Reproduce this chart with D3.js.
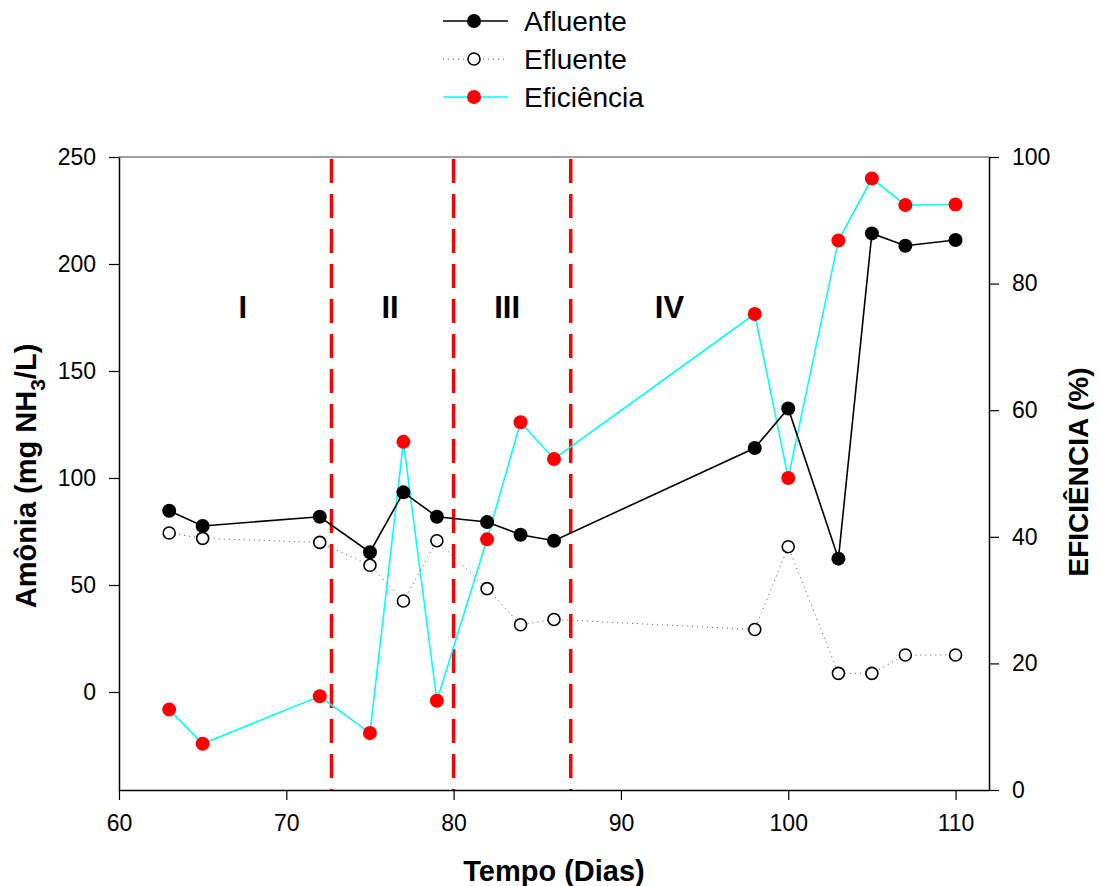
<!DOCTYPE html>
<html lang="pt">
<head>
<meta charset="UTF-8" />
<title>Amônia - Afluente / Efluente / Eficiência</title>
<script src="https://cdn.jsdelivr.net/npm/d3@7"></script>
<style>
  body { margin: 0; background: #fff; }
  svg text { font-family: "Liberation Sans", Arial, sans-serif; }
</style>
</head>
<body>
<div id="chart"></div>
<script>
// data
var dias = [63, 65, 72, 75, 77, 79, 82, 84, 86, 98, 100, 103, 105, 107, 110];
var afluente = [84.7, 77.6, 81.9, 65.3, 93.3, 81.9, 79.4, 73.5, 70.7, 114, 132.5, 62.3, 214.3, 208.5, 211.2];
var efluente = [74.3, 71.8, 69.9, 59.2, 42.5, 70.7, 48.3, 31.4, 33.9, 29.2, 67.9, 8.7, 8.7, 17.3, 17.3];
var eficiencia = [12.7, 7.3, 14.8, 9.0, 55.0, 14.1, 39.6, 58.1, 52.3, 75.2, 49.3, 86.8, 96.6, 92.4, 92.5];
var fases = [72.7, 80, 87];
var faseLabels = ["I", "II", "III", "IV"];
var faseLabelX = [67.4, 76.2, 83.2, 92.9];
var xTicks = [60, 70, 80, 90, 100, 110];
var yTicks = [0, 50, 100, 150, 200, 250];
var y2Ticks = [0, 20, 40, 60, 80, 100];

var W = 1100, H = 886;
// plot box (named pl* so they don't clash with window.top etc.)
var plLeft = 119, plRight = 989, plTop = 157, plBottom = 790;

var svg = d3.select("#chart").append("svg")
  .attr("width", W).attr("height", H);

var x = d3.scaleLinear().domain([60, 112]).range([plLeft, plRight]);
var y = d3.scaleLinear().domain([-45.8, 250]).range([plBottom, plTop]);
var y2 = d3.scaleLinear().domain([0, 100]).range([plBottom, plTop]);

// phase dividers
svg.selectAll("line.fase").data(fases).enter().append("line")
  .attr("class", "fase")
  .attr("x1", function(d) { return x(d); }).attr("x2", function(d) { return x(d); })
  .attr("y1", 159).attr("y2", plBottom)
  .attr("stroke", "#ff0000").attr("stroke-width", 3.5)
  .attr("stroke-dasharray", "24,11");

svg.selectAll("text.fase").data(faseLabels).enter().append("text")
  .attr("class", "fase")
  .attr("x", function(d, i) { return x(faseLabelX[i]); })
  .attr("y", 318)
  .attr("text-anchor", "middle")
  .style("font-size", "31px").style("font-weight", "bold")
  .text(function(d) { return d; });

var pts = dias.map(function(d, i) {
  return { d: d, af: afluente[i], ef: efluente[i], eff: eficiencia[i] };
});

// lines
svg.append("path").datum(pts)
  .attr("fill", "none").attr("stroke", "#00ffff").attr("stroke-width", 1.6)
  .attr("d", d3.line().x(function(p) { return x(p.d); }).y(function(p) { return y2(p.eff); }));

svg.append("path").datum(pts)
  .attr("fill", "none").attr("stroke", "#555").attr("stroke-width", 1)
  .attr("stroke-dasharray", "1,4")
  .attr("d", d3.line().x(function(p) { return x(p.d); }).y(function(p) { return y(p.ef); }));

svg.append("path").datum(pts)
  .attr("fill", "none").attr("stroke", "#000").attr("stroke-width", 1.6)
  .attr("d", d3.line().x(function(p) { return x(p.d); }).y(function(p) { return y(p.af); }));

// markers
svg.selectAll("circle.ef").data(pts).enter().append("circle")
  .attr("class", "ef")
  .attr("cx", function(p) { return x(p.d); }).attr("cy", function(p) { return y(p.ef); })
  .attr("r", 6).attr("fill", "#fff").attr("stroke", "#000").attr("stroke-width", 1.6);

svg.selectAll("circle.af").data(pts).enter().append("circle")
  .attr("class", "af")
  .attr("cx", function(p) { return x(p.d); }).attr("cy", function(p) { return y(p.af); })
  .attr("r", 7).attr("fill", "#000");

svg.selectAll("circle.eff").data(pts).enter().append("circle")
  .attr("class", "eff")
  .attr("cx", function(p) { return x(p.d); }).attr("cy", function(p) { return y2(p.eff); })
  .attr("r", 7).attr("fill", "#ff0000");

// frame top
svg.append("line")
  .attr("x1", plLeft).attr("x2", plRight).attr("y1", plTop).attr("y2", plTop)
  .attr("stroke", "#444").attr("stroke-width", 1.2);

// axes
function styleAxis(g) {
  g.select(".domain").attr("stroke", "#000").attr("stroke-width", 1.5);
  g.selectAll(".tick line").attr("stroke", "#000").attr("stroke-width", 1.2);
  g.selectAll(".tick text").style("font-size", "23px").attr("fill", "#000")
    .style("font-family", "'Liberation Sans', Arial, sans-serif");
}

svg.append("g")
  .attr("transform", "translate(0," + plBottom + ")")
  .call(d3.axisBottom(x).tickValues(xTicks).tickSize(10).tickSizeOuter(0).tickPadding(15))
  .call(styleAxis);

svg.append("g")
  .attr("transform", "translate(" + plLeft + ",0)")
  .call(d3.axisLeft(y).tickValues(yTicks).tickSize(10).tickSizeOuter(0).tickPadding(13))
  .call(styleAxis);

svg.append("g")
  .attr("transform", "translate(" + plRight + ",0)")
  .call(d3.axisRight(y2).tickValues(y2Ticks).tickSize(10).tickSizeOuter(0).tickPadding(13))
  .call(styleAxis);

// axis titles
svg.append("text")
  .attr("x", 554).attr("y", 881)
  .attr("text-anchor", "middle")
  .style("font-size", "29px").style("font-weight", "bold")
  .text("Tempo (Dias)");

var yt = svg.append("text")
  .attr("transform", "translate(36," + 476 + ") rotate(-90)")
  .attr("text-anchor", "middle")
  .style("font-size", "29px").style("font-weight", "bold");
yt.append("tspan").text("Amônia (mg NH");
yt.append("tspan").attr("dy", 9).style("font-size", "21px").text("3");
yt.append("tspan").attr("dy", -9).text("/L)");

svg.append("text")
  .attr("transform", "translate(1088," + 472 + ") rotate(-90)")
  .attr("text-anchor", "middle")
  .style("font-size", "28px").style("font-weight", "bold")
  .text("EFICIÊNCIA (%)");

// legend
var legend = [
  { name: "Afluente", stroke: "#000", dash: null, fill: "#000", ms: "none" },
  { name: "Efluente", stroke: "#555", dash: "1,4", fill: "#fff", ms: "#000" },
  { name: "Eficiência", stroke: "#00ffff", dash: null, fill: "#ff0000", ms: "none" }
];
var lg = svg.selectAll("g.leg").data(legend).enter().append("g")
  .attr("class", "leg")
  .attr("transform", function(d, i) { return "translate(0," + (21 + i * 38) + ")"; });
lg.append("line")
  .attr("x1", 443).attr("x2", 508).attr("y1", 0).attr("y2", 0)
  .attr("stroke", function(d) { return d.stroke; })
  .attr("stroke-width", function(d) { return d.dash ? 1 : 1.6; })
  .attr("stroke-dasharray", function(d) { return d.dash; });
lg.append("circle")
  .attr("cx", 474).attr("cy", 0)
  .attr("r", function(d) { return d.ms === "none" ? 7 : 6; })
  .attr("fill", function(d) { return d.fill; })
  .attr("stroke", function(d) { return d.ms; })
  .attr("stroke-width", 1.6);
lg.append("text")
  .attr("x", 524).attr("y", 10)
  .style("font-size", "28px")
  .text(function(d) { return d.name; });
</script>
</body>
</html>
